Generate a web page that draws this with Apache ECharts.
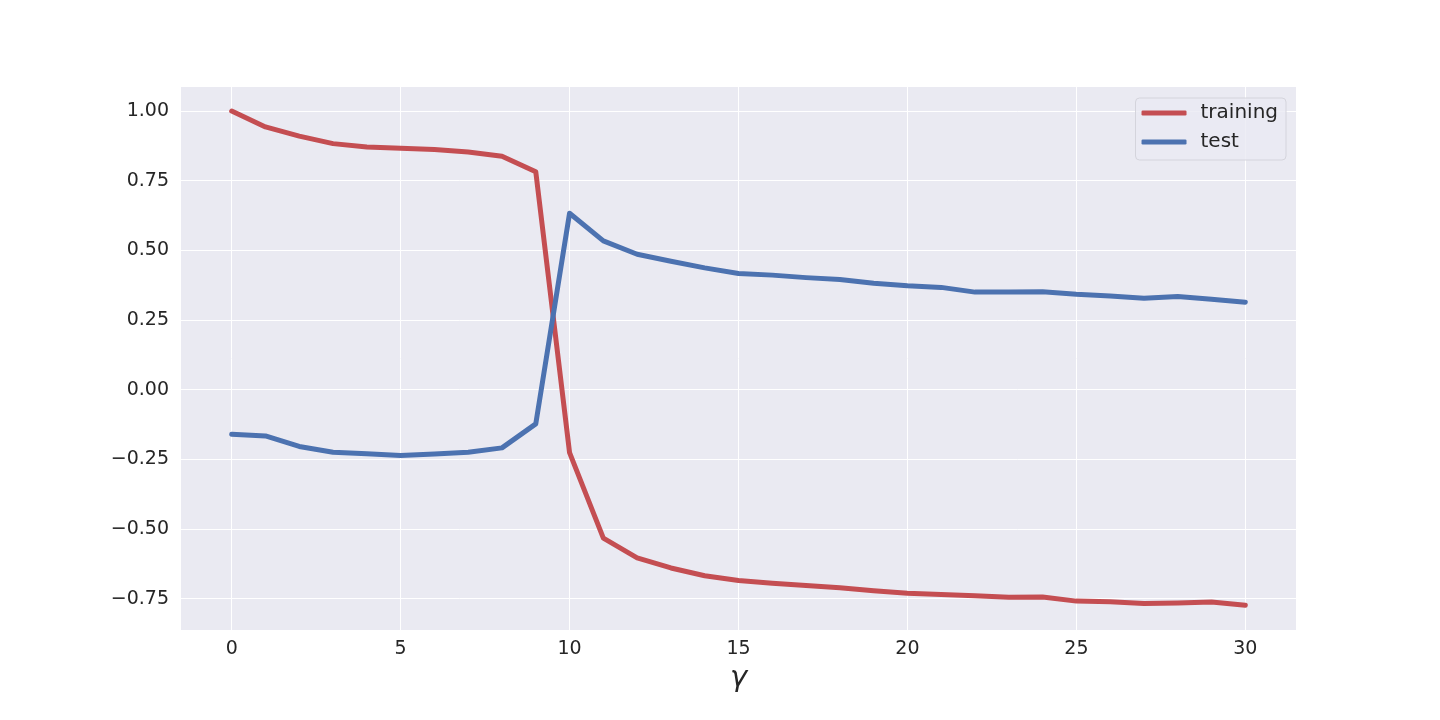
<!DOCTYPE html>
<html>
<head>
<meta charset="utf-8">
<title>training / test</title>
<script src="https://cdn.jsdelivr.net/npm/echarts@6/dist/echarts.min.js"></script>
<style>
  html, body { margin: 0; padding: 0; background: #fff; }
  #chart { width: 1440px; height: 720px; }
</style>
</head>
<body>
<div id="chart"></div>
<script>
// gamma values 0..30
const gammaValues = [0, 1, 2, 3, 4, 5, 6, 7, 8, 9, 10, 11, 12, 13, 14, 15,
  16, 17, 18, 19, 20, 21, 22, 23, 24, 25, 26, 27, 28, 29, 30];
const trainingValues = [1.00, 0.943, 0.910, 0.883, 0.871, 0.866, 0.862, 0.853, 0.838, 0.782,
  -0.226, -0.533, -0.604, -0.640, -0.668, -0.685, -0.695, -0.703, -0.711, -0.722,
  -0.731, -0.735, -0.740, -0.745, -0.744, -0.759, -0.761, -0.768, -0.766, -0.762, -0.774];
const testValues = [-0.160, -0.166, -0.204, -0.225, -0.230, -0.236, -0.231, -0.225, -0.209, -0.123,
  0.633, 0.534, 0.486, 0.461, 0.437, 0.417, 0.411, 0.402, 0.395, 0.382,
  0.373, 0.367, 0.350, 0.350, 0.351, 0.342, 0.336, 0.328, 0.334, 0.324, 0.314];
const xTicks = [0, 5, 10, 15, 20, 25, 30];
const yTicks = [-0.75, -0.5, -0.25, 0, 0.25, 0.5, 0.75, 1.0];

const font = 'DejaVu Sans';
const toPairs = (ys) => gammaValues.map((g, i) => [g, ys[i]]);

const chart = echarts.init(document.getElementById('chart'));
chart.setOption({
  animation: false,
  backgroundColor: '#ffffff',
  grid: {
    left: 181,
    right: 144,
    top: 87,
    bottom: 90,
    show: true,
    backgroundColor: '#EAEAF2',
    borderWidth: 0
  },
  legend: {
    orient: 'vertical',
    right: 154,
    top: 98,
    padding: [5, 8, 8, 6],
    itemGap: 9,
    itemWidth: 45,
    itemHeight: 5,
    icon: 'roundRect',
    backgroundColor: 'rgba(234,234,242,0.8)',
    borderColor: '#d4d4dc',
    borderWidth: 1,
    borderRadius: 4,
    textStyle: { fontFamily: font, fontSize: 20, color: '#262626', padding: [0, 0, 0, 9], lineHeight: 20 },
    data: ['training', 'test']
  },
  xAxis: {
    type: 'value',
    min: -1.5,
    max: 31.5,
    name: 'γ',
    nameLocation: 'middle',
    nameGap: 34,
    nameTextStyle: { fontFamily: font, fontStyle: 'italic', fontSize: 29, color: '#262626' },
    axisLine: { show: false },
    axisTick: { show: false, customValues: xTicks },
    axisLabel: {
      customValues: xTicks,
      fontFamily: font, fontSize: 19, color: '#262626', margin: 10
    },
    splitLine: { show: true, lineStyle: { color: '#ffffff', width: 1 } }
  },
  yAxis: {
    type: 'value',
    min: -0.8627,
    max: 1.0862,
    axisLine: { show: false },
    axisTick: { show: false, customValues: yTicks },
    axisLabel: {
      customValues: yTicks,
      fontFamily: font, fontSize: 19, color: '#262626', margin: 12,
      formatter: (v) => v.toFixed(2).replace('-', '\u2212')
    },
    splitLine: { show: true, lineStyle: { color: '#ffffff', width: 1 } }
  },
  series: [
    {
      name: 'training',
      type: 'line',
      data: toPairs(trainingValues),
      symbol: 'none',
      color: '#C44E52',
      lineStyle: { width: 5, cap: 'round', join: 'round' }
    },
    {
      name: 'test',
      type: 'line',
      data: toPairs(testValues),
      symbol: 'none',
      color: '#4C72B0',
      lineStyle: { width: 5, cap: 'round', join: 'round' }
    }
  ]
});
</script>
</body>
</html>
